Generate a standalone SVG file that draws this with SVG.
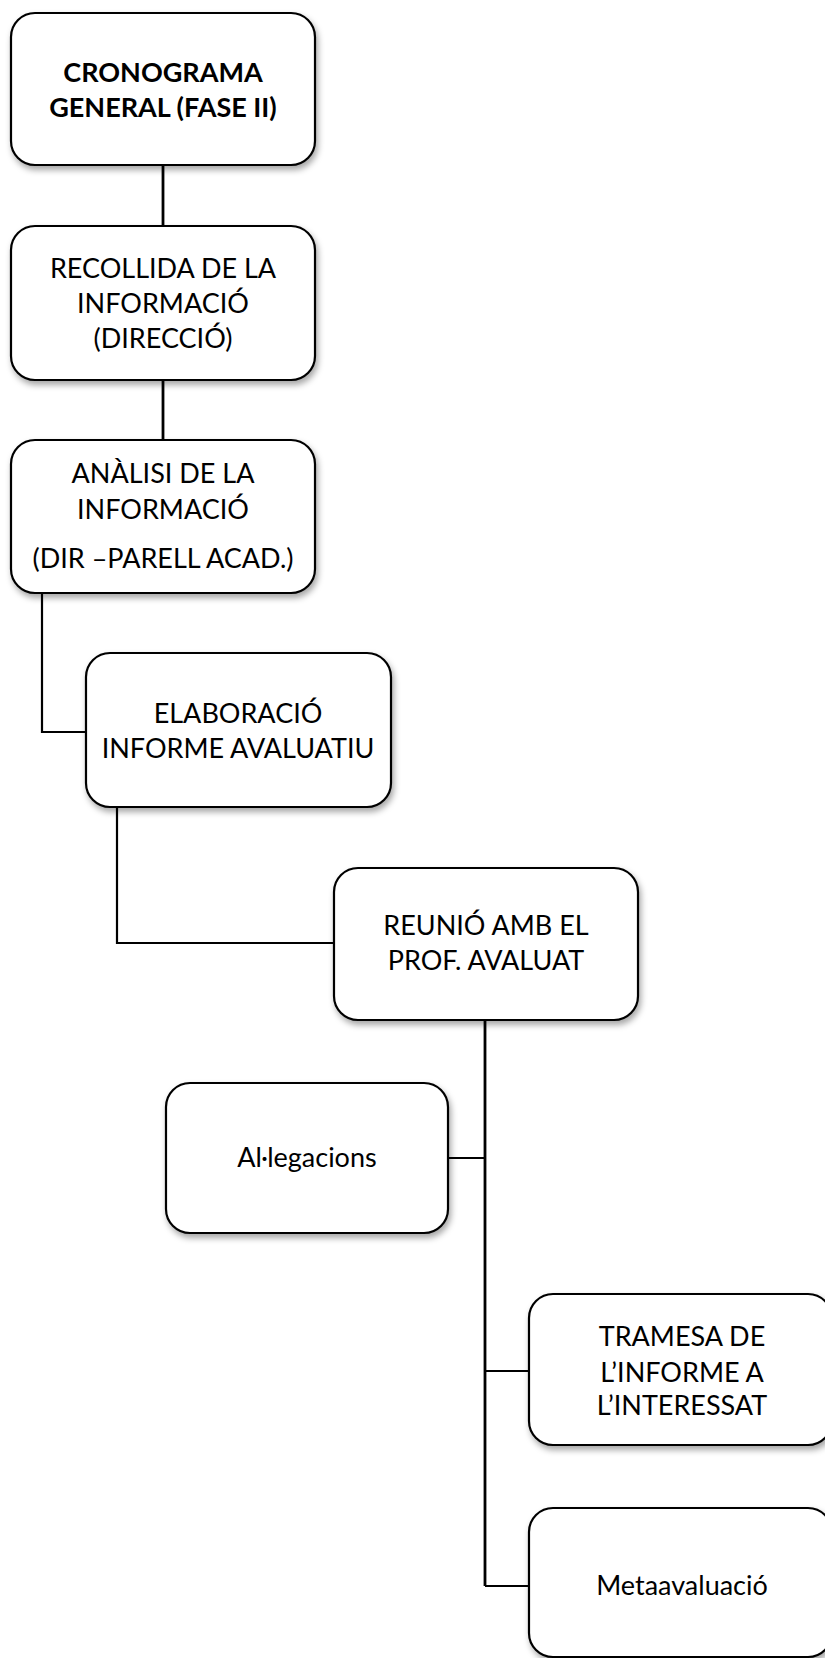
<svg xmlns="http://www.w3.org/2000/svg" width="825" height="1658" viewBox="0 0 825 1658">
<defs>
<filter id="sh" x="-10%" y="-10%" width="125%" height="130%">
<feDropShadow dx="2" dy="4" stdDeviation="3" flood-color="#000" flood-opacity="0.35"/>
</filter>
<style>
.box{fill:#fff;stroke:#000;stroke-width:2.2;filter:url(#sh)}
.t{font-family:Lato,"Open Sans",sans-serif;font-size:27px;fill:#000;text-anchor:middle}
.b{font-weight:bold}
.c{fill:none;stroke:#000;stroke-width:2.8}
.s{fill:none;stroke:#000;stroke-width:2.2}
</style>
</defs>
<rect width="825" height="1658" fill="#fff"/>
<g id="connectors">
<path class="c" d="M163,165 V226"/>
<path class="c" d="M163,380 V440"/>
<path class="s" d="M42,593 V732 H86"/>
<path class="s" d="M117,807 V943 H334"/>
<path class="c" d="M485,1020 V1586"/>
<path class="s" d="M485,1586 H529"/>
<path class="s" d="M448,1158 H485"/>
<path class="s" d="M485,1371 H529"/>
</g>
<g id="n1">
<rect class="box" x="11" y="13" width="304" height="152" rx="24"/>
<text class="t b" x="163" y="82">CRONOGRAMA</text>
<text class="t b" x="163" y="117">GENERAL (FASE II)</text>
</g>
<g id="n2">
<rect class="box" x="11" y="226" width="304" height="154" rx="24"/>
<text class="t" x="163" y="278">RECOLLIDA DE LA</text>
<text class="t" x="163" y="313">INFORMACIÓ</text>
<text class="t" x="163" y="348">(DIRECCIÓ)</text>
</g>
<g id="n3">
<rect class="box" x="11" y="440" width="304" height="153" rx="24"/>
<text class="t" x="163" y="483">ANÀLISI DE LA</text>
<text class="t" x="163" y="519">INFORMACIÓ</text>
<text class="t" x="163" y="568">(DIR –PARELL ACAD.)</text>
</g>
<g id="n4">
<rect class="box" x="86" y="653" width="305" height="154" rx="24"/>
<text class="t" x="238" y="723">ELABORACIÓ</text>
<text class="t" x="238" y="758">INFORME AVALUATIU</text>
</g>
<g id="n5">
<rect class="box" x="334" y="868" width="304" height="152" rx="24"/>
<text class="t" x="486" y="935">REUNIÓ AMB EL</text>
<text class="t" x="486" y="970">PROF. AVALUAT</text>
</g>
<g id="n6">
<rect class="box" x="166" y="1083" width="282" height="150" rx="24"/>
<text class="t" x="307" y="1167">Al·legacions</text>
</g>
<g id="n7">
<rect class="box" x="529" y="1294" width="303" height="151" rx="24"/>
<text class="t" x="682" y="1346">TRAMESA DE</text>
<text class="t" x="682" y="1382">L’INFORME A</text>
<text class="t" x="682" y="1415">L’INTERESSAT</text>
</g>
<g id="n8">
<rect class="box" x="529" y="1508" width="303" height="149" rx="24"/>
<text class="t" x="682" y="1595">Metaavaluació</text>
</g>
</svg>
